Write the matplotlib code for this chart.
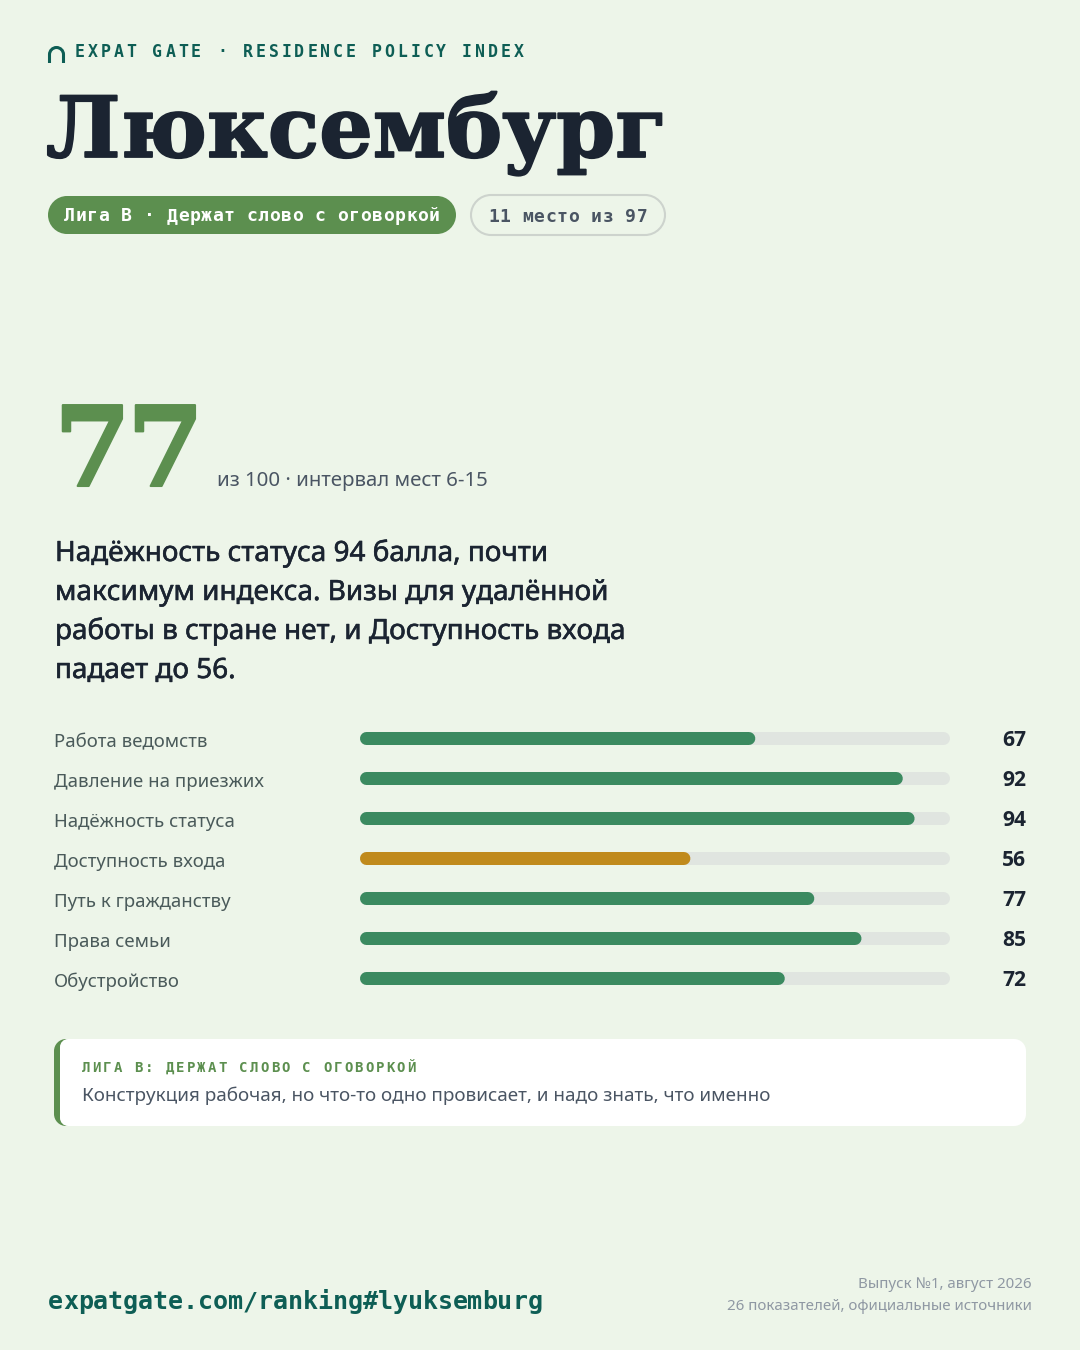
import matplotlib
matplotlib.use("Agg")
import matplotlib.pyplot as plt
import matplotlib.patheffects as pe
from matplotlib.patches import PathPatch
from matplotlib.path import Path
from matplotlib.text import Text

# data
categories = ["Работа ведомств", "Давление на приезжих", "Надёжность статуса",
              "Доступность входа", "Путь к гражданству", "Права семьи", "Обустройство"]
scores = [67, 92, 94, 56, 77, 85, 72]
weakest = "Доступность входа"
headline = ["Надёжность статуса 94 балла, почти",
            "максимум индекса. Визы для удалённой",
            "работы в стране нет, и Доступность входа",
            "падает до 56."]

BG = "#edf5e9"
INK = "#1b2431"
LEAGUE = "#5c8f4f"
TEAL = "#0e5e55"
BAR = "#3b8a60"
AMBER = "#c08a1c"
TRACK = "#e0e5e0"
SLATE = "#4a5563"
GRAY = "#8f98a3"
MONO = "DejaVu Sans Mono"
SANS = "Noto Sans"
SERIF = "DejaVu Serif"


def px(size):
    return size * 0.72


class SpacedText(Text):
    """One text whose letters sit a fixed number of pixels apart."""

    def __init__(self, x, y, s, advance, **kw):
        super().__init__(x, y, s, **kw)
        self.advance = advance

    def draw(self, renderer):
        for i, ch in enumerate(self.get_text()):
            t = Text(self._x + i * self.advance, self._y, ch, color=self.get_color(),
                     fontproperties=self.get_fontproperties(), va="baseline", ha="left",
                     transform=self.get_transform(), path_effects=self.get_path_effects())
            t.set_figure(self.get_figure())
            t.draw(renderer)


fig = plt.figure(figsize=(10.8, 13.5), dpi=100, facecolor=BG)
bg = fig.add_axes([0, 0, 1, 1])
bg.set_xlim(0, 1080)
bg.set_ylim(1350, 0)
bg.axis("off")


def label(x, y, s, size, color, family=SANS, weight="normal", ha="left"):
    return bg.text(x, y, s, fontsize=px(size), color=color, family=family,
                   fontweight=weight, ha=ha, va="baseline")


def spaced(x, y, s, advance, size, color, weight="bold", family=MONO):
    t = SpacedText(x, y, s, advance, fontsize=px(size), color=color,
                   family=family, fontweight=weight)
    bg.add_artist(t)
    return t


def rounded(x0, y0, x1, y1, r, face, edge="none", lw=0, z=1):
    # circular corners, the "round" boxstyle comes out too square
    k = r * 0.45
    verts = [(x0 + r, y0), (x1 - r, y0), (x1 - k, y0), (x1, y0 + k), (x1, y0 + r),
             (x1, y1 - r), (x1, y1 - k), (x1 - k, y1), (x1 - r, y1),
             (x0 + r, y1), (x0 + k, y1), (x0, y1 - k), (x0, y1 - r),
             (x0, y0 + r), (x0, y0 + k), (x0 + k, y0), (x0 + r, y0), (x0 + r, y0)]
    L, C = Path.LINETO, Path.CURVE4
    codes = [Path.MOVETO, L, C, C, C, L, C, C, C, L, C, C, C, L, C, C, C, Path.CLOSEPOLY]
    p = PathPatch(Path(verts, codes), fc=face, ec=edge, lw=lw, zorder=z)
    bg.add_patch(p)
    return p


# arch mark
k = 7 * 0.55
arch = Path([(49.5, 63), (49.5, 54.5), (49.5, 54.5 - k), (56.5 - k, 47.5), (56.5, 47.5),
             (56.5 + k, 47.5), (63.5, 54.5 - k), (63.5, 54.5), (63.5, 63)],
            [Path.MOVETO, Path.LINETO, Path.CURVE4, Path.CURVE4, Path.CURVE4,
             Path.CURVE4, Path.CURVE4, Path.CURVE4, Path.LINETO])
bg.add_patch(PathPatch(arch, fc="none", ec=TEAL, lw=2.2, capstyle="butt"))

spaced(75, 57, "EXPAT GATE · RESIDENCE POLICY INDEX", 12.9, 16.5, TEAL)
label(46, 157, "Люксембург", 84.3, INK, family=SERIF, weight="bold").set_path_effects(
    [pe.withStroke(linewidth=1.3, foreground=INK)])

rounded(48, 196, 456, 234, 19, LEAGUE)
spaced(64, 221, "Лига B · Держат слово с оговоркой", 11.4, 18, "white")
rounded(471, 195, 665, 235, 20, BG, edge="#cdd3cd", lw=1.5)
spaced(488, 222, "11 место из 97", 11.43, 18, SLATE)

big = spaced(54, 486, "77", 73, 111, LEAGUE, family=SERIF)
big.set_path_effects([pe.withStroke(linewidth=1.5, foreground=LEAGUE)])
label(217, 486, "из 100 · интервал мест 6-15", 20.4, SLATE)

for i, line in enumerate(headline):
    label(55, 561 + i * 39, line, 27.9, INK).set_path_effects(
        [pe.withStroke(linewidth=0.4, foreground=INK)])

# bars, scale 0-100 across the track
ax = fig.add_axes([360 / 1080, 1 - 998.5 / 1350, 590 / 1080, 280 / 1350])
ax.set_xlim(0, 100)
ax.set_ylim(len(scores) - 0.5, -0.5)
ax.axis("off")
cap = 6.5 * 100 / 590  # round cap overshoot in score units
for i, (name, val) in enumerate(zip(categories, scores)):
    color = AMBER if name == weakest else BAR
    ax.plot([cap, 100 - cap], [i, i], color=TRACK, lw=px(13), solid_capstyle="round",
            zorder=1, snap=False)
    ax.plot([cap, val - cap], [i, i], color=color, lw=px(13), solid_capstyle="round",
            zorder=2, snap=False)
    y = 747 + i * 40
    label(54, y, name, 18.6, "#4a5a5a")
    label(1026, y - 1, str(val), 21, INK, family="Open Sans", weight="bold", ha="right")

# callout
rounded(54, 1039, 90, 1126, 12, LEAGUE, z=1)
rounded(60, 1039, 200, 1126, 8, "white", z=2)
rounded(100, 1039, 1026, 1126, 12, "white", z=2)
t = spaced(82, 1072, "ЛИГА B: ДЕРЖАТ СЛОВО С ОГОВОРКОЙ", 10.48, 14, LEAGUE)
t.set_zorder(3)
label(82, 1101, "Конструкция рабочая, но что-то одно провисает, и надо знать, что именно",
      18.9, SLATE).set_zorder(3)

# footer
spaced(48, 1309, "expatgate.com/ranking#lyuksemburg", 14.98, 25, TEAL)
label(1032, 1288, "Выпуск №1, август 2026", 15.1, GRAY, ha="right")
label(1032, 1310, "26 показателей, официальные источники", 15.1, GRAY, ha="right")

fig.savefig("out.png", dpi=100, facecolor=BG)
